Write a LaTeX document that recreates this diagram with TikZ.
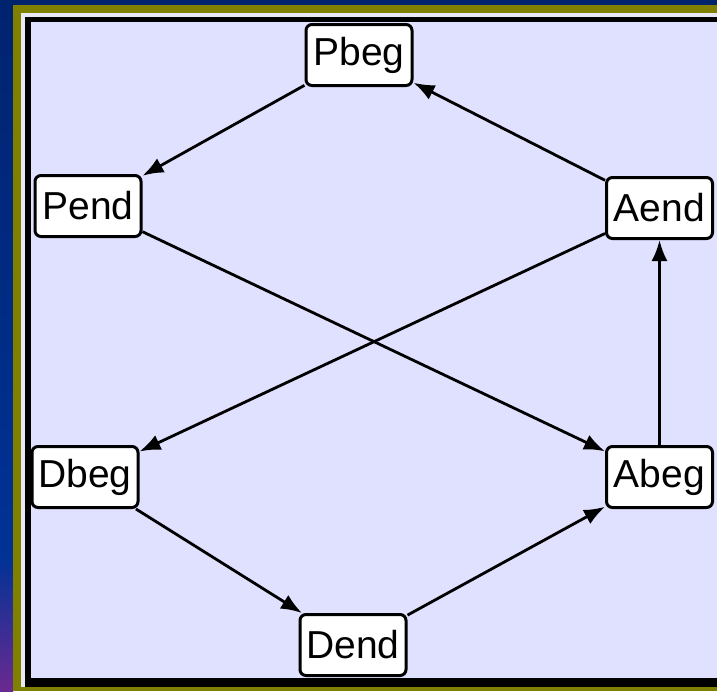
\documentclass[tikz,border=0pt]{standalone}
\usepackage{fontspec}
\setmainfont{Liberation Sans}
\usetikzlibrary{arrows.meta}
\definecolor{navytop}{HTML}{00236E}
\definecolor{navymid}{HTML}{003296}
\definecolor{purplebot}{HTML}{6A2A90}
\definecolor{olivebar}{HTML}{808000}
\definecolor{lightstrip}{HTML}{E8E8F6}
\definecolor{lavbg}{HTML}{E0E0FF}
\tikzset{
  statebox/.style={draw=black, fill=white, line width=3pt, rounded corners=6pt,
    minimum width=106pt, minimum height=61pt, inner sep=0pt,
    font=\fontsize{39}{42}\selectfont},
  flow/.style={line width=2.8pt, -{Latex[length=21pt,width=16pt]}}
}
\begin{document}
\begin{tikzpicture}[x=1pt,y=-1pt]
\useasboundingbox (0,0) rectangle (717,691);
% frame layers
\shade[top color=navytop,bottom color=navymid] (0,0) rectangle (13,557);
\shade[top color=navymid,bottom color=purplebot] (0,557) rectangle (13,691);
\fill[navytop] (13,0) rectangle (717,5);
\fill[olivebar] (13,5) rectangle (717,691);
\fill[lightstrip] (21,13) rectangle (717,687);
\fill[black] (25,17) rectangle (717,687);
\fill[lavbg] (31,22) rectangle (717,678);
% nodes
\node[statebox] (pbeg) at (359,55) {Pbeg};
\node[statebox] (pend) at (88,206) {Pend};
\node[statebox] (aend) at (659.5,208) {Aend};
\node[statebox] (dbeg) at (85,477) {Dbeg};
\node[statebox] (abeg) at (659.5,477) {Abeg};
\node[statebox] (dend) at (353,645) {Dend};
% edges
\draw[flow] (pbeg) -- (pend);
\draw[flow] (aend) -- (pbeg);
\draw[flow] (pend) -- (abeg);
\draw[flow] (aend) -- (dbeg);
\draw[flow] (abeg) -- (aend);
\draw[flow] (dbeg) -- (dend);
\draw[flow] (dend) -- (abeg);
\end{tikzpicture}
\end{document}
